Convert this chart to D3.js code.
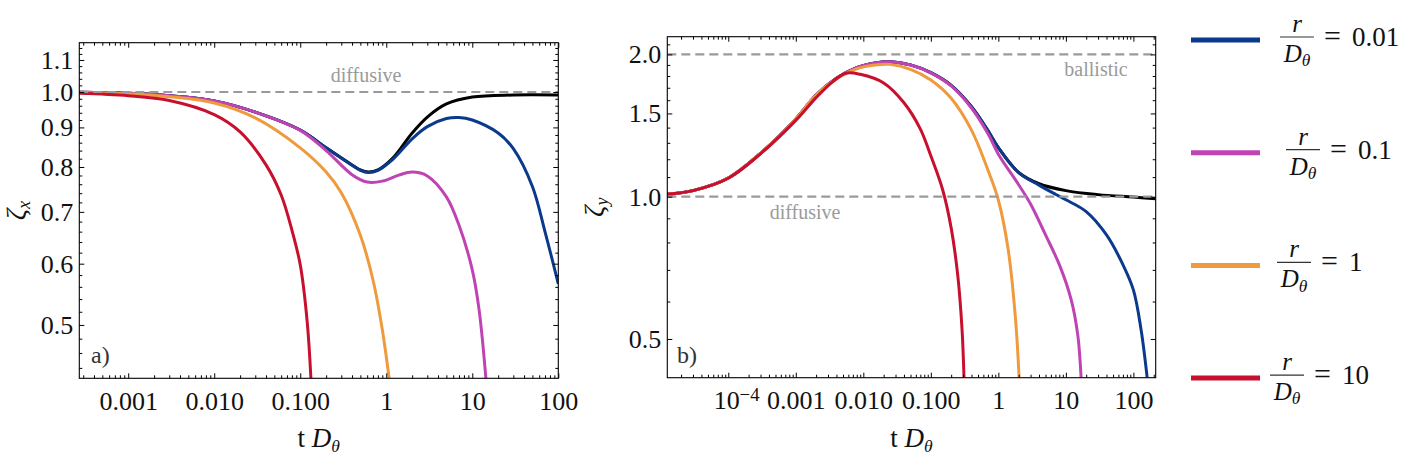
<!DOCTYPE html>
<html>
<head>
<meta charset="utf-8">
<script src="https://cdn.jsdelivr.net/npm/d3@7"></script>
<style>
  html, body { margin: 0; padding: 0; background: #fff; }
  svg { display: block; }
</style>
</head>
<body>
<svg id="chart" width="1402" height="469"></svg>
<script>
// ---- data: [t·Dθ, ζ] ----
const rateLabels = ["0.01", "0.1", "1", "10"];

// panel a) ζx
const zetaXFree = [[2.7e-4, 0.999], [0.001, 0.996], [0.003, 0.989], [0.01, 0.974], [0.03, 0.942], [0.1, 0.893],
  [0.2, 0.847], [0.4, 0.805], [0.5, 0.793], [0.62, 0.788], [0.8, 0.793], [1.2, 0.822], [2, 0.885], [3, 0.928],
  [5, 0.965], [10, 0.985], [30, 0.991], [100, 0.991]];
const zetaX001 = [[2.7e-4, 0.999], [0.001, 0.996], [0.003, 0.989], [0.01, 0.974], [0.03, 0.942], [0.1, 0.893],
  [0.2, 0.847], [0.4, 0.804], [0.5, 0.792], [0.62, 0.787], [0.8, 0.792], [1.2, 0.819], [2, 0.87], [3, 0.902],
  [5, 0.924], [7, 0.927], [10, 0.92], [20, 0.885], [30, 0.845], [50, 0.755], [70, 0.66], [100, 0.565]];
const zetaX01 = [[2.7e-4, 0.999], [0.001, 0.996], [0.003, 0.989], [0.01, 0.974], [0.03, 0.942], [0.1, 0.892],
  [0.2, 0.84], [0.4, 0.782], [0.6, 0.765], [0.9, 0.767], [1.4, 0.781], [2, 0.788], [3, 0.779], [5, 0.732],
  [7, 0.673], [10, 0.589], [12, 0.523], [14.4, 0.4266]];
const zetaX1 = [[2.7e-4, 0.998], [0.001, 0.995], [0.003, 0.986], [0.01, 0.968], [0.03, 0.926], [0.1, 0.847],
  [0.2, 0.788], [0.3, 0.741], [0.5, 0.653], [0.7, 0.572], [0.9, 0.493], [1.08, 0.4266]];
const zetaX10 = [[2.7e-4, 0.996], [0.001, 0.989], [0.003, 0.975], [0.01, 0.935], [0.02, 0.888], [0.04, 0.805],
  [0.06, 0.736], [0.08, 0.663], [0.1, 0.598], [0.12, 0.507], [0.133, 0.4266]];

// panel b) ζy
const zetaYFree = [[1.25e-5, 1.012], [3e-5, 1.03], [1e-4, 1.095], [3e-4, 1.235], [1e-3, 1.46], [2e-3, 1.64],
  [4e-3, 1.78], [8e-3, 1.875], [0.015, 1.918], [0.025, 1.93], [0.05, 1.9], [0.1, 1.83], [0.2, 1.72],
  [0.4, 1.55], [0.7, 1.38], [1, 1.27], [2, 1.125], [4, 1.065], [10, 1.03], [30, 1.01], [100, 0.998], [214, 0.99]];
const zetaY001 = [[1.25e-5, 1.012], [3e-5, 1.03], [1e-4, 1.095], [3e-4, 1.235], [1e-3, 1.46], [2e-3, 1.64],
  [4e-3, 1.78], [8e-3, 1.875], [0.015, 1.918], [0.025, 1.93], [0.05, 1.9], [0.1, 1.83], [0.2, 1.72],
  [0.4, 1.55], [0.7, 1.38], [1, 1.27], [2, 1.124], [4, 1.058], [7, 1.012], [10, 0.985], [20, 0.93],
  [40, 0.83], [70, 0.718], [100, 0.635], [130, 0.523], [160, 0.414]];
const zetaY01 = [[1.25e-5, 1.012], [3e-5, 1.03], [1e-4, 1.095], [3e-4, 1.235], [1e-3, 1.46], [2e-3, 1.64],
  [4e-3, 1.78], [8e-3, 1.875], [0.015, 1.918], [0.025, 1.929], [0.05, 1.899], [0.1, 1.828], [0.2, 1.715],
  [0.4, 1.54], [0.7, 1.36], [1, 1.23], [2, 1.06], [3, 0.965], [5, 0.83], [8, 0.718], [12, 0.605],
  [15, 0.51], [16.8, 0.414]];
const zetaY1 = [[1.25e-5, 1.012], [3e-5, 1.03], [1e-4, 1.095], [3e-4, 1.235], [1e-3, 1.46], [2e-3, 1.64],
  [4e-3, 1.775], [8e-3, 1.865], [0.015, 1.9], [0.025, 1.905], [0.05, 1.86], [0.1, 1.765], [0.2, 1.615],
  [0.4, 1.383], [0.7, 1.139], [1, 0.984], [1.4, 0.772], [1.8, 0.549], [2.03, 0.414]];
const zetaY10 = [[1.25e-5, 1.012], [3e-5, 1.03], [1e-4, 1.094], [3e-4, 1.232], [1e-3, 1.45], [2e-3, 1.62],
  [3.5e-3, 1.75], [5.5e-3, 1.825], [0.009, 1.815], [0.02, 1.74], [0.04, 1.58], [0.07, 1.39], [0.1, 1.22],
  [0.15, 1.033], [0.2, 0.859], [0.25, 0.683], [0.29, 0.523], [0.31, 0.414]];

// ticks
const xTicksA = [0.001, 0.01, 0.1, 1, 10, 100];
const xTickLabelsA = ["0.001", "0.010", "0.100", "1", "10", "100"];
const yTicksA = [0.5, 0.6, 0.7, 0.8, 0.9, 1.0, 1.1];
const yTickLabelsA = ["0.5", "0.6", "0.7", "0.8", "0.9", "1.0", "1.1"];
const xTicksB = [1e-4, 0.001, 0.01, 0.1, 1, 10, 100];
const xTickLabelsB = ["10^-4", "0.001", "0.010", "0.100", "1", "10", "100"];
const yTicksB = [0.5, 1.0, 1.5, 2.0];
const yTickLabelsB = ["0.5", "1.0", "1.5", "2.0"];

// ---- styling ----
const serif = "Liberation Serif, Tinos, Times New Roman, DejaVu Serif, serif";
const colors = ["#000000", "#0b3a8c", "#c043b4", "#f09a3e", "#c8102e"];
const tickFont = 26;

const panels = [
  {
    left: 79.3, right: 558.3, top: 42.7, bottom: 378.3,
    xDomain: [2.7e-4, 100], yDomain: [0.4266, 1.158],
    series: [zetaXFree, zetaX001, zetaX01, zetaX1, zetaX10],
    xTicks: xTicksA, xLabels: xTickLabelsA, yTicks: yTicksA, yLabels: yTickLabelsA,
    yMinorStep: 0.02,
    guides: [{ v: 1, text: "diffusive", tx: 366, dy: -10 }],
    tag: "a)", tagX: 91, yName: "x", yNameX: 25
  },
  {
    left: 667.3, right: 1155.7, top: 36.7, bottom: 377.7,
    xDomain: [1.25e-5, 214], yDomain: [0.414, 2.18],
    series: [zetaYFree, zetaY001, zetaY01, zetaY1, zetaY10],
    xTicks: xTicksB, xLabels: xTickLabelsB, yTicks: yTicksB, yLabels: yTickLabelsB,
    yMinorStep: 0.1,
    guides: [{ v: 2, text: "ballistic", tx: 1096, dy: 22 }, { v: 1, text: "diffusive", tx: 805, dy: 22 }],
    tag: "b)", tagX: 677, yName: "y", yNameX: 603
  }
];

const svg = d3.select("#chart").attr("font-family", serif);

function isDecade(v) {
  const l = Math.log10(v);
  return Math.abs(l - Math.round(l)) < 1e-9;
}

function styleAxis(sel) {
  sel.select(".domain").remove();
  sel.attr("font-family", serif).attr("font-size", null);
  sel.selectAll(".tick line").attr("stroke", "#000").attr("stroke-width", 1);
  sel.selectAll(".tick text").attr("font-family", serif).attr("font-size", tickFont).attr("fill", "#111");
}

panels.forEach((p, pi) => {
  const x = d3.scaleLog().domain(p.xDomain).range([p.left, p.right]);
  const y = d3.scaleLog().domain(p.yDomain).range([p.bottom, p.top]);
  const g = svg.append("g");

  const clipId = "clip" + pi;
  svg.append("clipPath").attr("id", clipId).append("rect")
    .attr("x", p.left).attr("y", p.top)
    .attr("width", p.right - p.left).attr("height", p.bottom - p.top);

  // curves
  const line = d3.line().x(d => x(d[0])).y(d => y(d[1])).curve(d3.curveCatmullRom.alpha(0.5));
  const curves = g.append("g").attr("clip-path", `url(#${clipId})`);
  p.series.forEach((s, i) => {
    curves.append("path")
      .attr("d", line(s))
      .attr("fill", "none")
      .attr("stroke", colors[i])
      .attr("stroke-width", 3)
      .attr("stroke-linejoin", "round");
  });

  // reference lines
  p.guides.forEach(gd => {
    curves.append("line")
      .attr("x1", p.left).attr("x2", p.right)
      .attr("y1", y(gd.v)).attr("y2", y(gd.v))
      .attr("stroke", "#9a9a9a").attr("stroke-width", 2.2)
      .attr("stroke-dasharray", "9,5");
    g.append("text")
      .attr("x", gd.tx).attr("y", y(gd.v) + gd.dy)
      .attr("text-anchor", "middle")
      .attr("font-size", 20).attr("fill", "#9a9a9a")
      .text(gd.text);
  });

  // frame ticks
  const xLab = new Map(p.xTicks.map((v, i) => [v, p.xLabels[i]]));
  const yLab = new Map(p.yTicks.map((v, i) => [v, p.yLabels[i]]));
  const xMinor = x.ticks().filter(v => !isDecade(v));
  const yMinor = d3.range(Math.ceil(p.yDomain[0] / p.yMinorStep) * p.yMinorStep, p.yDomain[1], p.yMinorStep)
    .filter(v => !p.yTicks.some(t => Math.abs(t - v) < 1e-6));

  const bottom = g.append("g").attr("transform", `translate(0,${p.bottom})`)
    .call(d3.axisBottom(x).tickValues(p.xTicks).tickSize(-5).tickPadding(13).tickFormat(d => xLab.get(d)))
    .call(styleAxis);
  g.append("g").attr("transform", `translate(0,${p.bottom})`)
    .call(d3.axisBottom(x).tickValues(xMinor).tickSize(-3).tickFormat("")).call(styleAxis);
  g.append("g").attr("transform", `translate(0,${p.top})`)
    .call(d3.axisTop(x).tickValues(p.xTicks).tickSize(-5).tickFormat("")).call(styleAxis);
  g.append("g").attr("transform", `translate(0,${p.top})`)
    .call(d3.axisTop(x).tickValues(xMinor).tickSize(-3).tickFormat("")).call(styleAxis);

  g.append("g").attr("transform", `translate(${p.left},0)`)
    .call(d3.axisLeft(y).tickValues(p.yTicks).tickSize(-5).tickPadding(6).tickFormat(d => yLab.get(d)))
    .call(styleAxis);
  g.append("g").attr("transform", `translate(${p.left},0)`)
    .call(d3.axisLeft(y).tickValues(yMinor).tickSize(-3).tickFormat("")).call(styleAxis);
  g.append("g").attr("transform", `translate(${p.right},0)`)
    .call(d3.axisRight(y).tickValues(p.yTicks).tickSize(-5).tickFormat("")).call(styleAxis);
  g.append("g").attr("transform", `translate(${p.right},0)`)
    .call(d3.axisRight(y).tickValues(yMinor).tickSize(-3).tickFormat("")).call(styleAxis);

  // power-of-ten labels get a superscript
  bottom.selectAll(".tick text").each(function () {
    const t = d3.select(this), s = t.text();
    if (s.includes("^")) {
      const [base, exp] = s.split("^");
      t.text("").attr("dx", "0.3em");
      t.append("tspan").text(base);
      t.append("tspan").attr("dy", "-0.45em").attr("font-size", "0.72em").text(exp.replace("-", "\u2212"));
    }
  });

  // frame
  g.append("rect")
    .attr("x", p.left).attr("y", p.top)
    .attr("width", p.right - p.left).attr("height", p.bottom - p.top)
    .attr("fill", "none").attr("stroke", "#000").attr("stroke-width", 1.1);

  // panel tag
  g.append("text").attr("x", p.tagX).attr("y", 363)
    .attr("font-size", 24).attr("fill", "#333").text(p.tag);

  // axis titles
  const xt = g.append("text")
    .attr("x", (p.left + p.right) / 2).attr("y", 447)
    .attr("text-anchor", "middle").attr("font-size", 27).attr("fill", "#111");
  xt.append("tspan").text("t ");
  xt.append("tspan").attr("font-style", "italic").text("D");
  xt.append("tspan").attr("font-style", "italic").attr("font-size", "0.65em").attr("dy", "0.3em").text("\u03b8");

  const yt = g.append("text")
    .attr("transform", `translate(${p.yNameX},${(p.top + p.bottom) / 2}) rotate(-90)`)
    .attr("text-anchor", "middle").attr("font-size", 28).attr("fill", "#111");
  yt.append("tspan").attr("font-style", "italic").text("\u03b6");
  yt.append("tspan").attr("font-style", "italic").attr("font-size", "0.65em").attr("dy", "0.3em").text(p.yName);
});

// ---- legend ----
const legendX0 = 1191, legendX1 = 1260, legendTop = 40, legendGap = 112.7;
const fracX = [1280, 1286, 1277, 1270];
const fracW = 34;
const legend = svg.append("g").attr("font-size", 25).attr("fill", "#111");
rateLabels.forEach((lab, i) => {
  const ly = legendTop + i * legendGap;
  legend.append("line")
    .attr("x1", legendX0).attr("x2", legendX1).attr("y1", ly).attr("y2", ly)
    .attr("stroke", colors[i + 1]).attr("stroke-width", 5);
  const fx = fracX[i], bar = ly - 3;
  legend.append("line")
    .attr("x1", fx).attr("x2", fx + fracW).attr("y1", bar).attr("y2", bar)
    .attr("stroke", "#333").attr("stroke-width", 1.2);
  legend.append("text").attr("x", fx + fracW / 2).attr("y", bar - 5)
    .attr("text-anchor", "middle").attr("font-style", "italic").text("r");
  const den = legend.append("text").attr("x", fx + fracW / 2).attr("y", bar + 25)
    .attr("text-anchor", "middle").attr("font-style", "italic");
  den.append("tspan").text("D");
  den.append("tspan").attr("font-size", "0.7em").attr("dy", "0.25em").text("\u03b8");
  legend.append("text").attr("x", fx + fracW + 10).attr("y", ly + 6)
    .attr("font-size", 30).text("=");
  legend.append("text").attr("x", fx + fracW + 38).attr("y", ly + 6)
    .attr("font-size", 27).text(lab);
});
</script>
</body>
</html>
